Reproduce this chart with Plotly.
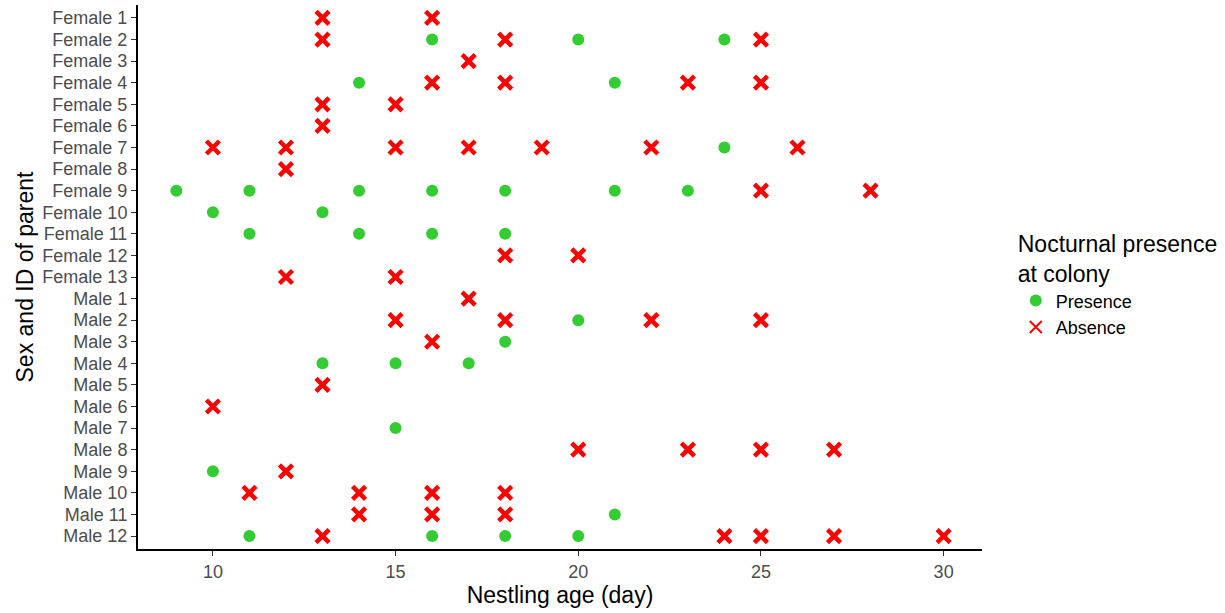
import plotly.graph_objects as go

# Parent IDs, top to bottom on the y axis
parents = [f"Female {i}" for i in range(1, 14)] + [f"Male {i}" for i in range(1, 13)]

# Nestling ages (days) with nocturnal presence / absence for each parent
presence = {
    "Female 2": [16, 20, 24],
    "Female 4": [14, 21],
    "Female 7": [24],
    "Female 9": [9, 11, 14, 16, 18, 21, 23],
    "Female 10": [10, 13],
    "Female 11": [11, 14, 16, 18],
    "Male 2": [20],
    "Male 3": [18],
    "Male 4": [13, 15, 17],
    "Male 7": [15],
    "Male 9": [10],
    "Male 11": [21],
    "Male 12": [11, 16, 18, 20],
}
absence = {
    "Female 1": [13, 16],
    "Female 2": [13, 18, 25],
    "Female 3": [17],
    "Female 4": [16, 18, 23, 25],
    "Female 5": [13, 15],
    "Female 6": [13],
    "Female 7": [10, 12, 15, 17, 19, 22, 26],
    "Female 8": [12],
    "Female 9": [25, 28],
    "Female 12": [18, 20],
    "Female 13": [12, 15],
    "Male 1": [17],
    "Male 2": [15, 18, 22, 25],
    "Male 3": [16],
    "Male 5": [13],
    "Male 6": [10],
    "Male 8": [20, 23, 25, 27],
    "Male 9": [12],
    "Male 10": [11, 14, 16, 18],
    "Male 11": [14, 16, 18],
    "Male 12": [13, 24, 25, 27, 30],
}

x_ticks = [10, 15, 20, 25, 30]


def flatten(d):
    xs, ys = [], []
    for p in parents:
        for age in d.get(p, []):
            xs.append(age)
            ys.append(p)
    return xs, ys


px, py = flatten(presence)
ax, ay = flatten(absence)

fig = go.Figure()
fig.add_trace(go.Scatter(
    x=px, y=py, mode="markers", name="Presence",
    marker=dict(symbol="circle", size=12, color="#33CC33", line=dict(width=0)),
))
fig.add_trace(go.Scatter(
    x=ax, y=ay, mode="markers", name="Absence",
    marker=dict(symbol="x-thin", size=13, color="#FF0000",
                line=dict(width=4.5, color="#FF0000")),
))

font_family = "Liberation Sans, Arial, sans-serif"

fig.update_layout(
    width=1225, height=613,
    margin=dict(l=138, r=243, t=5, b=64),
    paper_bgcolor="white", plot_bgcolor="white",
    font=dict(family=font_family, color="black"),
    xaxis=dict(
        range=[7.95, 31.05], tickvals=x_ticks, showgrid=False, zeroline=False,
        showline=True, linecolor="black", linewidth=2,
        ticks="outside", ticklen=5, tickwidth=1, tickcolor="#333333",
        tickfont=dict(size=18, color="#4D4D4D"),
        title=dict(text="Nestling age (day)", font=dict(size=23, color="black"), standoff=6),
    ),
    yaxis=dict(
        type="category", categoryorder="array", categoryarray=parents,
        tickmode="array", tickvals=parents, ticktext=parents,
        autorange=False, range=[len(parents) - 1 + 0.6, -0.6],
        showgrid=False, zeroline=False,
        showline=True, linecolor="black", linewidth=2,
        ticks="outside", ticklen=5, tickwidth=1, tickcolor="#333333",
        tickfont=dict(size=18, color="#4D4D4D"),
        title=dict(text="Sex and ID of parent", font=dict(size=23, color="black"), standoff=2),
    ),
    legend=dict(
        title=dict(text="Nocturnal presence<br>at colony", font=dict(size=23, color="black")),
        font=dict(size=18, color="black"),
        x=1.04, xanchor="left", y=0.6, yanchor="top",
        tracegroupgap=0, itemsizing="constant",
        bgcolor="rgba(0,0,0,0)",
    ),
)

fig.write_html("out.html")
